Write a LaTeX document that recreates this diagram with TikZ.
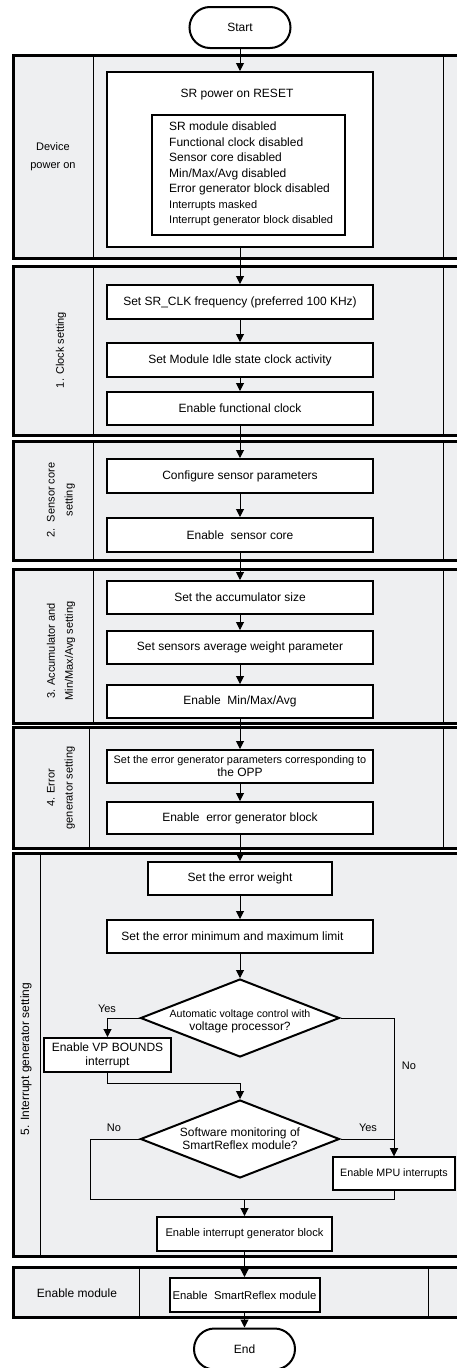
\documentclass[tikz,border=0pt]{standalone}
\usepackage{fontspec}
\setmainfont{Liberation Sans}
\usetikzlibrary{shapes.geometric,shapes.misc,arrows.meta}
\definecolor{lanefill}{RGB}{238,239,241}
\newcommand\myfs[2]{\fontsize{#1}{#2}\selectfont}
\begin{document}
\begin{tikzpicture}[x=1pt,y=-1pt,
  lane/.style={draw=black, line width=3pt, fill=lanefill},
  divl/.style={draw=black, line width=1pt},
  box/.style={draw=black, line width=2pt, fill=white, inner sep=0pt, align=center, font=\myfs{12}{14}},
  term/.style={rounded rectangle, draw=black, line width=2pt, fill=white, minimum width=101pt, minimum height=41pt, inner sep=0pt, font=\myfs{12}{14}},
  dia/.style={diamond, draw=black, line width=2pt, fill=white, minimum width=199pt, minimum height=78pt, inner sep=0pt},
  arr/.style={draw=black, line width=1pt, -{Triangle[length=8pt,width=8pt]}},
  conn/.style={draw=black, line width=1pt},
  lbl/.style={font=\myfs{11}{18}, align=center, inner sep=0pt},
  ttxt/.style={font=\myfs{12}{13}, align=center, inner sep=0pt},
  yn/.style={font=\myfs{11}{13}, inner sep=0pt}
]
\useasboundingbox (0,0) rectangle (457,1368);

% lanes
\path[lane] (13,55) rectangle (470,258);
\draw[divl] (93,55) -- (93,258);
\draw[divl] (443,55) -- (443,258);
\path[lane] (13,266) rectangle (470,435);
\draw[divl] (93,266) -- (93,435);
\draw[divl] (443,266) -- (443,435);
\path[lane] (13,441) rectangle (470,560);
\draw[divl] (93,441) -- (93,560);
\draw[divl] (443,441) -- (443,560);
\path[lane] (13,569) rectangle (470,723);
\draw[divl] (93,569) -- (93,723);
\draw[divl] (443,569) -- (443,723);
\path[lane] (13,727) rectangle (470,848);
\draw[divl] (89,727) -- (89,848);
\draw[divl] (443,727) -- (443,848);
\path[lane] (13,853) rectangle (470,1256);
\draw[divl] (40,853) -- (40,1256);
\path[lane] (13,1267) rectangle (470,1317);
\draw[divl] (139,1267) -- (139,1317);
\draw[divl] (428,1267) -- (428,1317);

% lane labels
\node[lbl] (l0) at (53,157) {Device\\power on};
\node[lbl, rotate=90] (l1) at (61,350) {1. Clock setting};
\node[lbl, rotate=90] (l2) at (61,500) {2.\ \ Sensor core\\setting};
\node[lbl, rotate=90] (l3) at (61,651) {3. Accumulator and\\Min/Max/Avg setting};
\node[lbl, rotate=90] (l4) at (61,788) {4. Error\\generator setting};
\node[lbl, rotate=90, font=\myfs{12}{14}] (l5) at (26,1059) {5. Interrupt generator setting};
\node[lbl, font=\myfs{12}{14}] (l6) at (77,1293) {Enable module};

% nodes
\node[term] (start) at (240,27.5) {Start};
\node[box, minimum width=266pt, minimum height=175pt] (sr) at (240,159.5) {};
\node[ttxt] (srt) at (237,95) {SR power on RESET};
\node[box, minimum width=193pt, minimum height=120pt] (srl) at (248.5,175) {};
\node[anchor=west, align=left, inner sep=0pt, font=\myfs{12}{15.5}] (srlt) at (169,174)
  {SR module disabled\\Functional clock disabled\\Sensor core disabled\\Min/Max/Avg disabled\\Error generator block disabled\\{\myfs{11}{15.5}Interrupts masked}\\{\myfs{11}{15.5}Interrupt generator block disabled}};

\node[box, minimum width=266pt, minimum height=34pt] (b1) at (240,302) {Set SR\_CLK frequency (preferred 100 KHz)};
\node[box, minimum width=266pt, minimum height=34pt] (b2) at (240,360) {Set Module Idle state clock activity};
\node[box, minimum width=266pt, minimum height=33pt] (b3) at (240,408.5) {Enable functional clock};
\node[box, minimum width=266pt, minimum height=34pt] (b4) at (240,476) {Configure sensor parameters};
\node[box, minimum width=266pt, minimum height=34pt] (b5) at (240,535) {Enable\ \ sensor core};
\node[box, minimum width=266pt, minimum height=33pt] (b6) at (240,597.5) {Set the accumulator size};
\node[box, minimum width=266pt, minimum height=33pt] (b7) at (240,647.5) {Set sensors average weight parameter};
\node[box, minimum width=266pt, minimum height=33pt] (b8) at (240,701.5) {Enable\ \ Min/Max/Avg};
\node[box, minimum width=266pt, minimum height=33pt, font=\myfs{12}{13}] (b9) at (240,766.5) {{\myfs{10.9}{13}Set the error generator parameters corresponding to}\\the OPP};
\node[box, minimum width=266pt, minimum height=32pt] (b10) at (240,818) {Enable\ \ error generator block};
\node[box, minimum width=184pt, minimum height=33pt] (b11) at (240,878.5) {Set the error weight};
\node[box, minimum width=266pt, minimum height=33pt] (b12) at (240,936.5) {Set the error minimum and maximum limit\hspace*{15pt}};

\node[dia] (d1) at (240,1018) {};
\node[ttxt] (d1t) at (240,1021.5) {{\myfs{10.6}{13}Automatic voltage control with}\\voltage processor?};
\node[box, minimum width=127pt, minimum height=34pt] (vp) at (107.5,1055) {Enable VP BOUNDS\\interrupt};
\node[dia] (d2) at (240,1139) {};
\node[ttxt] (d2t) at (240,1138.5) {Software monitoring of\\SmartReflex module?};
\node[box, minimum width=122pt, minimum height=33pt, font=\myfs{10.7}{13}] (mpu) at (394,1173.5) {Enable MPU interrupts};
\node[box, minimum width=175pt, minimum height=34pt, font=\myfs{11.1}{13}] (b13) at (244.5,1234) {Enable interrupt generator block};
\node[box, minimum width=150pt, minimum height=34pt, font=\myfs{11.3}{13}] (b14) at (244.5,1295) {Enable\ \ SmartReflex module};
\node[term] (end) at (244.5,1349) {End};

% labels
\node[yn] (yes1) at (107,1009) {Yes};
\node[yn] (no1) at (409,1066) {No};
\node[yn] (no2) at (114,1128) {No};
\node[yn] (yes2) at (368,1128) {Yes};

% connectors
\draw[arr] (start.south) -- (sr.north);
\draw[arr] (sr.south) -- (b1.north);
\draw[arr] (b1) -- (b2);
\draw[arr] (b2) -- (b3);
\draw[arr] (b3) -- (b4);
\draw[arr] (b4) -- (b5);
\draw[arr] (b5) -- (b6);
\draw[arr] (b6) -- (b7);
\draw[arr] (b7) -- (b8);
\draw[arr] (b8) -- (b9);
\draw[arr] (b9) -- (b10);
\draw[arr] (b10) -- (b11);
\draw[arr] (b11) -- (b12);
\draw[arr] (b12.south) -- (d1.north);
\draw[arr] (d1.west) -| (vp.north);
\coordinate (m1) at (240,1083);
\draw[arr] (vp.south) |- (m1) -- (d2.north);
\draw[arr] (d1.east) -| (mpu.north);
\draw[arr] (d2.east) -| (mpu.north);
\coordinate (cl) at (90,1199);
\coordinate (cr) at (mpu.south |- cl);
\coordinate (cm) at (b13.north |- cl);
\draw[conn] (d2.west) -| (cl) -- (cr) -- (mpu.south);
\draw[arr] (cm) -- (b13.north);
\draw[arr] (b13.south) -- (b14.north);
\draw[arr] (b14.south) -- (end.north);
\end{tikzpicture}
\end{document}
